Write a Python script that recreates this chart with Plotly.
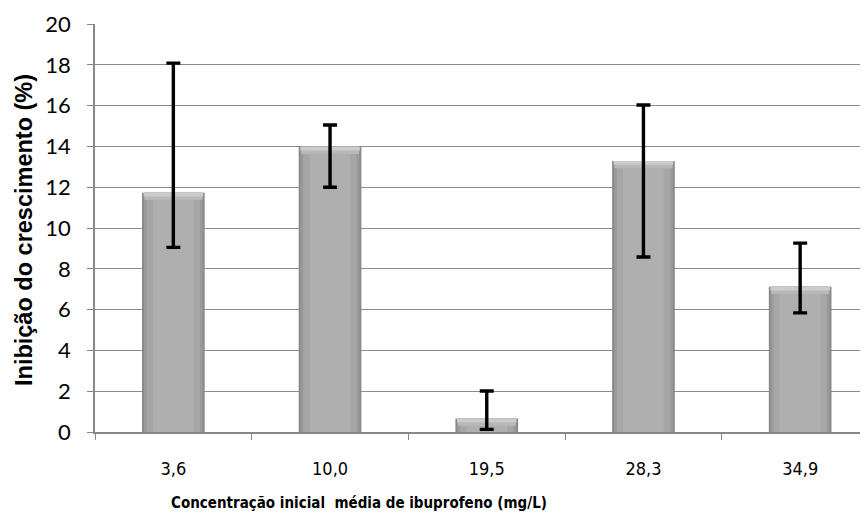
import plotly.graph_objects as go

categories = ["3,6", "10,0", "19,5", "28,3", "34,9"]
values = [11.73, 13.98, 0.66, 13.28, 7.12]
err_upper = [18.08, 15.05, 2.01, 16.03, 9.26]
err_lower = [9.05, 12.0, 0.13, 8.58, 5.84]
y_ticks = [0, 2, 4, 6, 8, 10, 12, 14, 16, 18, 20]

plus = [u - v for u, v in zip(err_upper, values)]
minus = [v - l for v, l in zip(values, err_lower)]

# page body adds an 8px offset; figure sized to fit the 868x518 window
OFF = 8
W, H = 860, 510
ML, MR, MT, MB = 95 - OFF, 0, 24 - OFF, 86
pw, ph = W - ML - MR, H - MT - MB


def px2paper(x, y):
    x -= OFF
    y -= OFF
    return (x - ML) / pw, (H - MB - y) / ph


fig = go.Figure()
# layered bars to imitate the shaded cylinder look
layers = [(0.40, "#8a8a8a"), (0.375, "#9a9a9a"), (0.34, "#a6a6a6"), (0.26, "#afafaf")]
for w, c in layers:
    fig.add_trace(go.Bar(x=categories, y=values, width=w, marker=dict(color=c, line=dict(width=0)),
                         showlegend=False, hoverinfo="skip"))
# bevel highlight at the top of each bar
for bev, col, w in [(0.35, "#b8b8b8", 0.37), (0.18, "#cccccc", 0.38)]:
    fig.add_trace(go.Bar(x=categories, y=[bev] * len(values), base=[v - bev for v in values],
                         width=w, marker=dict(color=col, line=dict(width=0)),
                         showlegend=False, hoverinfo="skip"))
fig.add_trace(go.Bar(
    x=categories, y=values, width=0.40,
    marker=dict(color="rgba(0,0,0,0)", line=dict(width=0)),
    error_y=dict(type="data", symmetric=False, array=plus, arrayminus=minus,
                 color="black", thickness=3.4, width=7),
    showlegend=False,
))

ax, ay = px2paper(359, 503)
bx, by = px2paper(24, 230)

fig.update_layout(
    width=W, height=H,
    margin=dict(l=ML, r=MR, t=MT, b=MB, autoexpand=False),
    paper_bgcolor="white", plot_bgcolor="white",
    barmode="overlay",
    xaxis=dict(
        type="category", range=[-0.5, 4.433], automargin=False,
        tickson="boundaries", ticks="outside", ticklen=6, tickcolor="#888888",
        showline=True, linecolor="#888888", linewidth=1.5,
        showgrid=False, ticklabelstandoff=20,
        tickfont=dict(family="DejaVu Sans Condensed, Liberation Sans", size=18, color="black"),
    ),
    yaxis=dict(
        range=[0, 20], tickvals=y_ticks, automargin=False,
        ticks="outside", ticklen=6, tickcolor="#888888",
        showline=True, linecolor="#888888", linewidth=1.5,
        showgrid=True, gridcolor="#8c8c8c", gridwidth=1.3,
        zeroline=False, ticklabelstandoff=12,
        tickfont=dict(family="Lato, Liberation Sans", size=22, color="black"),
    ),
    annotations=[
        dict(text="<b>Concentração inicial&nbsp; média de ibuprofeno (mg/L)</b>", x=ax, y=ay,
             xref="paper", yref="paper", xanchor="center", yanchor="middle", showarrow=False,
             font=dict(family="DejaVu Sans Condensed, Liberation Sans", size=15, color="black")),
        dict(text="<b>Inibição do crescimento (%)</b>", x=bx, y=by, textangle=-90,
             xref="paper", yref="paper", xanchor="center", yanchor="middle", showarrow=False,
             font=dict(family="Liberation Sans, Arial", size=23.5, color="black")),
    ],
)

fig.write_html("out.html")
